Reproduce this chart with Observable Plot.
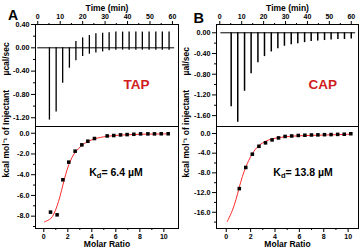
<!DOCTYPE html>
<html><head><meta charset="utf-8">
<script src="https://cdn.jsdelivr.net/npm/d3@7"></script>
<script src="https://cdn.jsdelivr.net/npm/@observablehq/plot@0.6"></script>
<style>
body{margin:0;background:#fff;}
#wrap{position:relative;width:361px;height:251px;overflow:hidden;font-family:"Liberation Sans",Arial,sans-serif;font-weight:bold;}
#wrap svg{position:absolute;left:0;top:0;}
.kd{position:absolute;white-space:nowrap;line-height:1;font-size:10.5px;font-weight:bold;color:#000;transform:translate(-50%,-50%);}
.kd sub{font-size:0.72em;vertical-align:-0.3em;line-height:0;}
</style></head><body><div id="wrap"></div>
<script>
// ---------- data ----------
const timeTicks = [0, 10, 20, 30, 40, 50, 60];
const timeMinor = [5, 15, 25, 35, 45, 55];
const ratioTicks = [0, 2, 4, 6, 8, 10];
const ratioMinor = [1, 3, 5, 7, 9];

// Panel A (TAP) raw thermogram: injection times (min), lower and upper peak excursions (µcal/sec)
const injTimeA = [5.2, 8.2, 11.1, 14.1, 17.0, 20.0, 23.0, 25.9, 28.9, 31.8, 34.8, 37.8, 40.7, 43.7, 46.6, 49.6, 52.6, 55.5, 58.5];
const peakLowA = [-1.24, -1.10, -0.61, -0.35, -0.22, -0.15, -0.11, -0.09, -0.07, -0.05, -0.04, -0.04, -0.04, -0.04, -0.04, -0.04, -0.04, -0.04, -0.04];
const peakHighA = [0, 0, 0, 0, 0.11, 0.17, 0.21, 0.24, 0.25, 0.26, 0.27, 0.27, 0.27, 0.27, 0.27, 0.27, 0.27, 0.27, 0.27];
const baselineA = [0, 61];
const yTicksTopA = [0.4, 0, -0.4, -0.8, -1.2];
const yMinorTopA = [0.2, -0.2, -0.6, -1.0];

// Panel A integrated heats
const ratioA = [0.56, 1.11, 1.59, 2.08, 2.61, 3.17, 3.67, 4.22, 5.28, 5.83, 6.39, 6.94, 7.50, 8.06, 8.67, 9.22, 9.78, 10.36];
const heatA = [-7.61, -7.87, -4.49, -2.79, -1.73, -1.12, -0.77, -0.51, -0.26, -0.22, -0.16, -0.13, -0.10, -0.06, -0.06, -0.06, -0.05, -0.05];
const fitRatioA = [0.05, 0.56, 0.83, 1.11, 1.35, 1.59, 1.83, 2.08, 2.35, 2.61, 3.17, 3.67, 4.22, 4.72, 5.83, 7.5, 9.0, 10.36];
const fitHeatA = [-8.55, -8.25, -7.8, -7.0, -6.1, -5.0, -3.95, -3.05, -2.35, -1.85, -1.18, -0.8, -0.55, -0.4, -0.23, -0.12, -0.08, -0.06];
const yTicksBotA = [0, -2, -4, -6, -8];
const yMinorBotA = [-1, -3, -5, -7, -9];

// Panel B (CAP) raw thermogram
const injTimeB = [5.2, 8.2, 11.3, 14.3, 17.4, 20.4, 23.5, 26.5, 29.5, 32.6, 35.6, 38.7, 41.7, 44.7, 47.8, 50.8, 53.9, 56.9, 60.0];
const peakLowB = [-1.43, -1.73, -1.13, -0.79, -0.58, -0.46, -0.37, -0.31, -0.26, -0.23, -0.21, -0.19, -0.17, -0.16, -0.15, -0.14, -0.13, -0.13, -0.12];
const baselineB = [0.5, 62];
const yTicksTopB = [0, -0.4, -0.8, -1.2, -1.6];
const yMinorTopB = [-0.2, -0.6, -1.0, -1.4];

// Panel B integrated heats
const ratioB = [1.07, 1.60, 2.14, 2.68, 3.22, 3.76, 4.29, 4.83, 5.37, 5.91, 6.45, 6.99, 7.52, 8.06, 8.60, 9.14, 9.68, 10.22];
const heatB = [-11.2, -6.9, -4.2, -2.6, -1.9, -1.3, -0.9, -0.6, -0.5, -0.4, -0.35, -0.3, -0.28, -0.24, -0.22, -0.18, -0.15, -0.05];
const fitRatioB = [0.08, 0.49, 0.8, 1.07, 1.33, 1.6, 2.14, 2.68, 3.22, 3.76, 4.29, 5.37, 7.52, 10.22];
const fitHeatB = [-17.9, -15.7, -13.4, -10.9, -8.7, -6.85, -4.1, -2.45, -1.6, -1.1, -0.85, -0.55, -0.35, -0.15];
const yTicksBotB = [0, -4, -8, -12, -16];
const yMinorBotB = [-2, -6, -10, -14, -18];

const RED_TEXT = "#d01c1c";
const RED_FIT = "#ff2a2a";

// ---------- helpers ----------
const W = 361, H = 251;
const wrap = document.getElementById("wrap");
const zip2 = (a, b) => a.map((v, i) => ({x: v, y: b[i]}));
const styleBase = {fontFamily: "Liberation Sans, Arial, sans-serif", fontWeight: "bold", fontSize: "7px", background: "transparent", overflow: "visible"};

function frameAxes({xTicks, xMinor, xAnchor, yTicks, yMinor, yFmt}) {
  return [
    Plot.axisX({anchor: xAnchor, ticks: xTicks, tickSize: 4, tickPadding: xAnchor === "bottom" ? 1.5 : 2, tickFormat: d => String(d), label: null, fontSize: 7}),
    Plot.axisX({anchor: xAnchor, ticks: xMinor, tickSize: 2, tickFormat: () => "", label: null}),
    Plot.axisY({anchor: "left", ticks: yTicks, tickSize: 4, tickPadding: 2, tickFormat: yFmt, label: null, fontSize: 7.2}),
    Plot.axisY({anchor: "left", ticks: yMinor, tickSize: 2, tickFormat: () => "", label: null}),
    Plot.frame({stroke: "black", strokeWidth: 1})
  ];
}

function add(opts) {
  const svg = Plot.plot({width: W, height: H, style: styleBase, ...opts});
  wrap.appendChild(svg);
}

// ---------- Panel A top ----------
add({
  marginLeft: 35, marginRight: W - 178, marginTop: 24, marginBottom: H - 126,
  x: {domain: [-1.0, 62.7]},
  y: {domain: [-1.35, 0.4]},
  marks: [
    Plot.ruleY([0], {x1: baselineA[0], x2: baselineA[1], stroke: "black", strokeWidth: 1}),
    Plot.ruleX(injTimeA.map((t, i) => ({t, lo: peakLowA[i], hi: peakHighA[i]})), {x: "t", y1: "lo", y2: "hi", stroke: "black", strokeWidth: 1.3}),
    ...frameAxes({xTicks: timeTicks, xMinor: timeMinor, xAnchor: "top", yTicks: yTicksTopA, yMinor: yMinorTopA, yFmt: d => d.toFixed(2)}),
    Plot.text(["Time (min)"], {frameAnchor: "top", dy: -19.5, fontSize: 8.5}),
    Plot.text(["µcal/sec"], {frameAnchor: "left", rotate: -90, dx: -29, fontSize: 8.5}),
    Plot.text(["TAP"], {frameAnchor: "top-left", dx: 88, dy: 55, fontSize: 13.5, fill: RED_TEXT}),
    Plot.text(["A"], {frameAnchor: "top-left", dx: -27.5, dy: -14, fontSize: 14})
  ]
});

// ---------- Panel A bottom ----------
add({
  marginLeft: 35, marginRight: W - 178, marginTop: 126, marginBottom: H - 228,
  x: {domain: [-0.69, 11.22]},
  y: {domain: [-9.19, 0.65]},
  marks: [
    Plot.line(zip2(fitRatioA, fitHeatA), {x: "x", y: "y", stroke: RED_FIT, strokeWidth: 1, curve: "catmull-rom"}),
    Plot.dot(zip2(ratioA, heatA), {x: "x", y: "y", symbol: "square", r: 2, fill: "black", stroke: "none"}),
    ...frameAxes({xTicks: ratioTicks, xMinor: ratioMinor, xAnchor: "bottom", yTicks: yTicksBotA, yMinor: yMinorBotA, yFmt: d => d.toFixed(1)}),
    Plot.text(["Molar Ratio"], {frameAnchor: "bottom", dy: 18.8, fontSize: 8.5}),
    Plot.text(["kcal mol⁻¹ of Injectant"], {frameAnchor: "left", rotate: -90, dx: -29, fontSize: 8.5})
  ]
});

// ---------- Panel B top ----------
add({
  marginLeft: 216, marginRight: W - 358, marginTop: 24, marginBottom: H - 126,
  x: {domain: [-1.5, 63.3]},
  y: {domain: [-1.81, 0.16]},
  marks: [
    Plot.ruleY([0], {x1: baselineB[0], x2: baselineB[1], stroke: "black", strokeWidth: 1}),
    Plot.ruleX(injTimeB.map((t, i) => ({t, lo: peakLowB[i]})), {x: "t", y1: "lo", y2: 0, stroke: "black", strokeWidth: 1.5}),
    ...frameAxes({xTicks: timeTicks, xMinor: timeMinor, xAnchor: "top", yTicks: yTicksTopB, yMinor: yMinorTopB, yFmt: d => d.toFixed(2)}),
    Plot.text(["Time (min)"], {frameAnchor: "top", dy: -19.5, fontSize: 8.5}),
    Plot.text(["µal/sec"], {frameAnchor: "left", rotate: -90, dx: -30, fontSize: 8.5}),
    Plot.text(["CAP"], {frameAnchor: "top-left", dx: 92, dy: 55, fontSize: 13.5, fill: RED_TEXT}),
    Plot.text(["B"], {frameAnchor: "top-left", dx: -23, dy: -12, fontSize: 14.5})
  ]
});

// ---------- Panel B bottom ----------
add({
  marginLeft: 216, marginRight: W - 358, marginTop: 126, marginBottom: H - 228,
  x: {domain: [-0.8, 10.85]},
  y: {domain: [-19.3, 1.42]},
  marks: [
    Plot.line(zip2(fitRatioB, fitHeatB), {x: "x", y: "y", stroke: RED_FIT, strokeWidth: 1, curve: "catmull-rom"}),
    Plot.dot(zip2(ratioB, heatB), {x: "x", y: "y", symbol: "square", r: 2, fill: "black", stroke: "none"}),
    ...frameAxes({xTicks: ratioTicks, xMinor: ratioMinor, xAnchor: "bottom", yTicks: yTicksBotB, yMinor: yMinorBotB, yFmt: d => d.toFixed(1)}),
    Plot.text(["Molar Ratio"], {frameAnchor: "bottom", dy: 18.8, fontSize: 8.5}),
    Plot.text(["kcal mol⁻¹ of injectant"], {frameAnchor: "left", rotate: -90, dx: -30, fontSize: 8.5})
  ]
});

// ---------- Kd annotations ----------
function kd(x, y, val) {
  const d = document.createElement("div");
  d.className = "kd";
  d.style.left = x + "px";
  d.style.top = y + "px";
  d.innerHTML = "K<sub>d</sub>= " + val + " µM";
  wrap.appendChild(d);
}
kd(116, 172, "6.4");
kd(303, 172, "13.8");
</script>
</body></html>
